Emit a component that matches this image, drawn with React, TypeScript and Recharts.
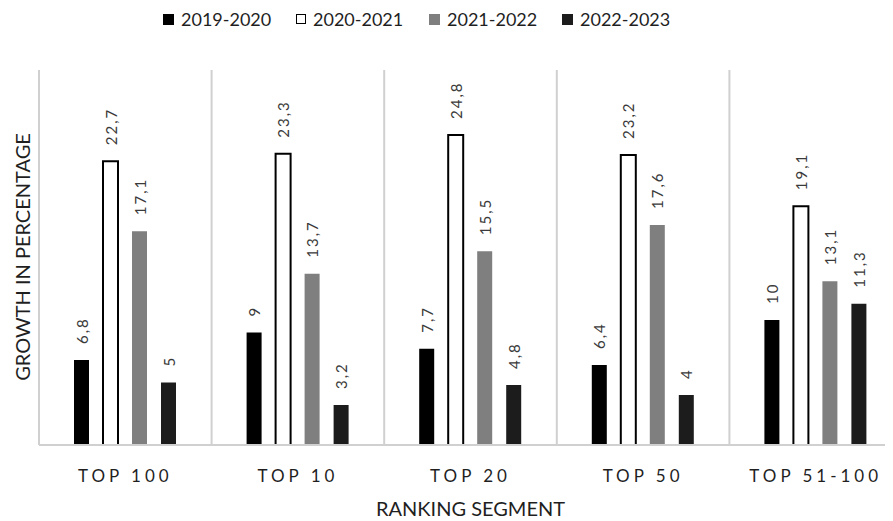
import React from 'react'
import { BarChart, Bar, XAxis, YAxis, CartesianGrid, Legend, LabelList, Label } from 'recharts'

const categories = ['TOP 100', 'TOP 10', 'TOP 20', 'TOP 50', 'TOP 51-100']
const growth2019 = [6.8, 9, 7.7, 6.4, 10]
const growth2020 = [22.7, 23.3, 24.8, 23.2, 19.1]
const growth2021 = [17.1, 13.7, 15.5, 17.6, 13.1]
const growth2022 = [5, 3.2, 4.8, 4, 11.3]

const seriesNames = ['2019-2020', '2020-2021', '2021-2022', '2022-2023']

const data = categories.map((name, i) => ({
  name,
  s2019: growth2019[i],
  s2020: growth2020[i],
  s2021: growth2021[i],
  s2022: growth2022[i],
}))

const FONT = 'Lato, "Open Sans", sans-serif'

const series = [
  { key: 's2019', name: seriesNames[0], fill: '#000000', stroke: 'none', strokeWidth: 0 },
  { key: 's2020', name: seriesNames[1], fill: '#ffffff', stroke: '#000000', strokeWidth: 2 },
  { key: 's2021', name: seriesNames[2], fill: '#7f7f7f', stroke: 'none', strokeWidth: 0 },
  { key: 's2022', name: seriesNames[3], fill: '#1c1c1c', stroke: 'none', strokeWidth: 0 },
]

function formatValue(v: number) {
  return String(v).replace('.', ',')
}

function ValueLabel(props: any) {
  const { x, y, width, value } = props
  const cx = Number(x) + Number(width) / 2
  const ty = Number(y) - 16
  return (
    <text
      x={cx}
      y={ty}
      transform={`rotate(-90 ${cx} ${ty})`}
      textAnchor="start"
      dominantBaseline="central"
      fill="#3a3a3a"
      fontFamily={FONT}
      fontSize={15}
      letterSpacing={2}
    >
      {formatValue(value)}
    </text>
  )
}

function CategoryTick(props: any) {
  const { x, y, payload } = props
  return (
    <text
      x={x}
      y={y + 30}
      textAnchor="middle"
      dominantBaseline="central"
      fill="#1f1f1f"
      fontFamily={FONT}
      fontSize={17}
      letterSpacing={4}
    >
      {payload.value}
    </text>
  )
}

function LegendContent() {
  return (
    <div style={{ display: 'flex', fontFamily: FONT, fontSize: 18, color: '#1f1f1f' }}>
      {series.map((s) => (
        <div key={s.key} style={{ width: 133, display: 'flex', alignItems: 'center' }}>
          <span
            style={{
              display: 'inline-block',
              width: s.strokeWidth ? 8 : 11,
              height: s.strokeWidth ? 8 : 11,
              background: s.fill,
              border: s.strokeWidth ? '1.5px solid #000' : 'none',
              marginRight: 7,
            }}
          />
          <span>{s.name}</span>
        </div>
      ))}
    </div>
  )
}

export default function App() {
  return (
    <div style={{ width: 885, height: 513, overflow: 'hidden' }}>
      <BarChart
        width={894}
        height={513}
        data={data}
        margin={{ top: 62, right: 0, bottom: 0, left: 31 }}
        barSize={15}
        barGap={14}
        barCategoryGap={35}
      >
        <CartesianGrid
          horizontal={false}
          stroke="#d0d0d0"
          strokeWidth={2}
          verticalCoordinatesGenerator={({ offset }: any) =>
            [...categories, ''].map((_, i) => offset.left + (i * offset.width) / categories.length)
          }
        />
        <XAxis
          dataKey="name"
          height={76}
          axisLine={{ stroke: '#d0d0d0', strokeWidth: 2 }}
          tickLine={false}
          tickSize={0}
          tickMargin={0}
          tick={<CategoryTick />}
          interval={0}
        >
          <Label
            content={({ viewBox }: any) => (
              <text
                x={viewBox.x + viewBox.width / 2}
                y={500}
                textAnchor="middle"
                dominantBaseline="central"
                fill="#1f1f1f"
                fontFamily={FONT}
                fontSize={20}
              >
                RANKING SEGMENT
              </text>
            )}
          />
        </XAxis>
        <YAxis hide domain={[0, 30]} />
        <Legend
          layout="horizontal"
          verticalAlign="middle"
          align="center"
          content={<LegendContent />}
          wrapperStyle={{ top: 0, left: 155, width: 540, height: 20 }}
        />
        {series.map((s) => (
          <Bar
            key={s.key}
            dataKey={s.key}
            name={s.name}
            fill={s.fill}
            stroke={s.stroke}
            strokeWidth={s.strokeWidth}
            isAnimationActive={false}
          >
            <LabelList dataKey={s.key} content={<ValueLabel />} />
          </Bar>
        ))}
        <text
          x={14}
          y={249}
          transform="rotate(-90 14 249)"
          textAnchor="middle"
          dominantBaseline="central"
          fill="#1f1f1f"
          fontFamily={FONT}
          fontSize={20}
        >
          GROWTH IN PERCENTAGE
        </text>
      </BarChart>
    </div>
  )
}
